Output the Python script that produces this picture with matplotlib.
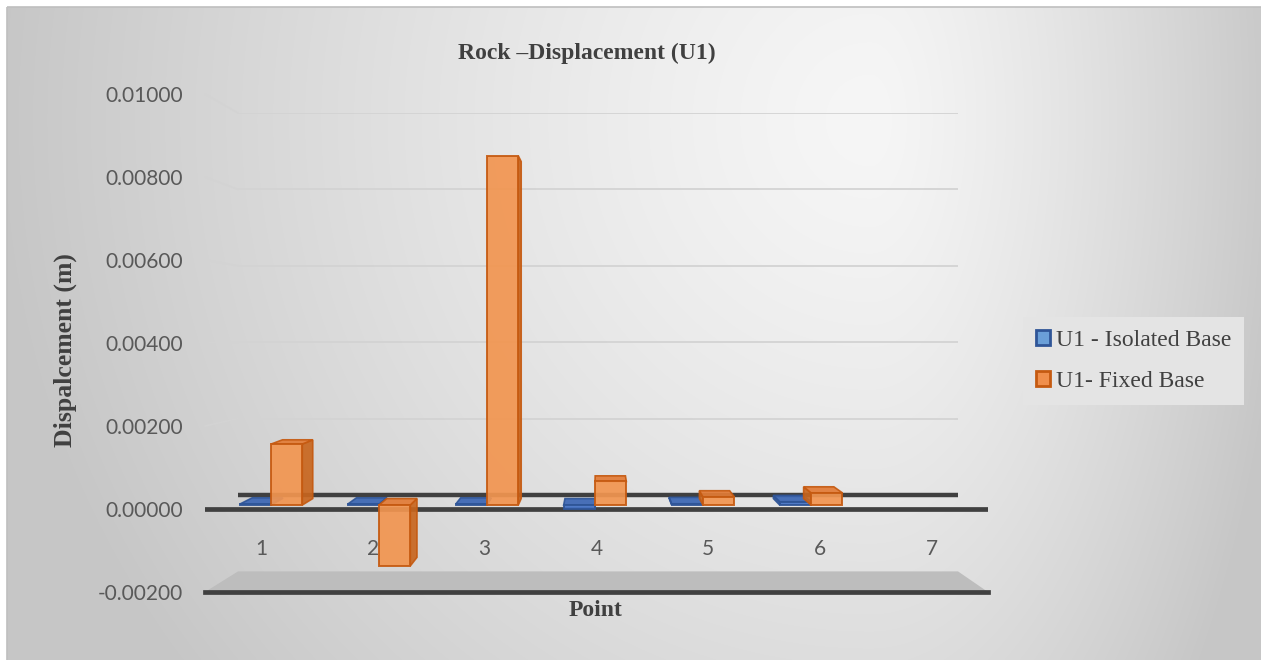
import numpy as np
import matplotlib
matplotlib.use("Agg")
import matplotlib.pyplot as plt
from matplotlib.patches import Polygon, Patch, Rectangle, ConnectionPatch
from matplotlib.transforms import blended_transform_factory

# ---- data ----
categories = [1, 2, 3, 4, 5, 6, 7]
isolated_base = [0.00002, 0.00002, 0.00002, -0.0001, 0.00003, 0.00008, np.nan]
fixed_base = [0.0015, -0.0015, 0.0086, 0.00058, 0.0002, 0.0003, np.nan]
series_names = ["U1 - Isolated Base", "U1- Fixed Base"]
y_ticks = [-0.002, 0.0, 0.002, 0.004, 0.006, 0.008, 0.010]
chart_title = "Rock \u2013Displacement (U1)"
x_title = "Point"
y_title = "Dispalcement (m)"

W, H = 1261, 660
fig = plt.figure(figsize=(W / 100, H / 100), dpi=100)
fig.patch.set_facecolor("white")

SERIF = ["Liberation Serif", "DejaVu Serif"]
SANS = ["Lato", "DejaVu Sans"]
TXT = "#404040"
TICK = "#595959"
GRID = "#d3d3d3"


def px_axes(left, top, right, bottom, z):
    ax = fig.add_axes([left / W, 1 - bottom / H, (right - left) / W, (bottom - top) / H])
    ax.set_zorder(z)
    ax.patch.set_visible(False)
    for s in ax.spines.values():
        s.set_visible(False)
    return ax


# ---- chart area background (soft grey gradient) ----
bg = fig.add_axes([0, 0, 1, 1])
bg.set_zorder(0)
bg.set_xlim(0, W)
bg.set_ylim(H, 0)
bg.axis("off")
xx, yy = np.meshgrid(np.arange(7, W + 1), np.arange(7, H + 1))
cx, cy = 870.0, 120.0
rx = np.where(xx < cx, 880.0, 420.0)
t = np.clip(np.sqrt(((xx - cx) / rx) ** 2 + ((yy - cy) / 900.0) ** 2), 0, 1)
g = (246 - 48 * t ** 1.3) / 255.0
bg.imshow(np.dstack([g, g, g]), extent=(7, W + 1, H + 1, 7), aspect="auto",
          interpolation="bilinear")
bg.add_patch(Rectangle((7, 7), W, H, fill=False, edgecolor="#bfbfbf", lw=1.2))

# ---- back wall ----
ax_back = px_axes(238, 113, 958, 571.4, 1)
ax_back.set_xlim(0.5, 7.5)
ax_back.set_ylim(y_ticks[0], y_ticks[-1])
ax_back.set_xticks([])
ax_back.set_yticks([])
for v in y_ticks[2:]:
    ax_back.axhline(v, color=GRID, lw=1.3)
ax_back.axhline(0.0, color="#404040", lw=3.2)

# ---- front plane: value labels, zero line, floor ----
ax_front = px_axes(205, 94, 988, 592, 2)
ax_front.set_xlim(0.5, 7.5)
ax_front.set_ylim(y_ticks[0], y_ticks[-1])
ax_front.set_xticks([])
ax_front.set_yticks(y_ticks)
ax_front.set_yticklabels([f"{v:.5f}" for v in y_ticks], family=SANS, fontsize=15, color=TICK)
ax_front.tick_params(axis="y", length=0, pad=16)

floor_disp = np.vstack([
    ax_front.transData.transform([(0.5, y_ticks[0]), (7.5, y_ticks[0])]),
    ax_back.transData.transform([(7.5, y_ticks[0]), (0.5, y_ticks[0])]),
])
floor_pts = ax_front.transData.inverted().transform(floor_disp)
ax_front.add_patch(Polygon(floor_pts, closed=True, facecolor="#bdbdbd", edgecolor="none",
                           zorder=1, clip_on=False))
ax_front.axhline(0.0, color="#404040", lw=3.4, zorder=2)
ax_front.axhline(y_ticks[0], color="#404040", lw=3.4, zorder=2, clip_on=False)

for v in y_ticks[2:]:
    con = ConnectionPatch(xyA=(0.5, v), coordsA=ax_front.transData,
                          xyB=(0.5, v), coordsB=ax_back.transData,
                          color=GRID, lw=1.3)
    con.set_zorder(1)
    fig.add_artist(con)

lab_tr = blended_transform_factory(ax_front.transData, ax_front.transAxes)
for c in categories:
    ax_front.text(c, 0.0863, str(c), transform=lab_tr, ha="center", va="center",
                  family=SANS, fontsize=15, color=TICK)

# ---- bars (drawn in the mid-depth plane with a perspective box effect) ----
ax_bar = px_axes(217, 99, 973, 586.2, 3)
ax_bar.set_xlim(0.5, 7.5)
ax_bar.set_ylim(y_ticks[0], y_ticks[-1])
ax_bar.axis("off")

vp = np.array([4.05, 0.00453])   # vanishing point in bar-plane data units
depth = 0.035
bar_w = 0.29
x = np.array(categories, dtype=float)

styles = [
    dict(front="#4472C4", side="#33579a", top="#3b66b4", edge="#2F5597"),
    dict(front="#F29550", side="#c8661f", top="#e27b36", edge="#C55A11"),
]


def back(p):
    p = np.asarray(p, dtype=float)
    return p + depth * (vp - p)


for si, (vals, st) in enumerate(zip([isolated_base, fixed_base], styles)):
    off = (-0.5 + si) * bar_w
    z = 3 + 2 * si
    rects = ax_bar.bar(x + off, vals, bar_w, color=st["front"], edgecolor=st["edge"],
                       lw=1.4, alpha=0.92, zorder=z + 1)
    for r in rects:
        h = r.get_height()
        if not np.isfinite(h):
            continue
        xl, y0 = r.get_xy()
        xr = xl + r.get_width()
        yb, yt = min(y0, y0 + h), max(y0, y0 + h)
        faces = []
        if vp[0] > xr:
            faces.append(([(xr, yb), (xr, yt), back((xr, yt)), back((xr, yb))], st["side"]))
        if vp[0] < xl:
            faces.append(([(xl, yb), (xl, yt), back((xl, yt)), back((xl, yb))], st["side"]))
        if vp[1] > yt:
            faces.append(([(xl, yt), (xr, yt), back((xr, yt)), back((xl, yt))], st["top"]))
        if vp[1] < yb:
            faces.append(([(xl, yb), (xr, yb), back((xr, yb)), back((xl, yb))], st["top"]))
        for pts, col in faces:
            ax_bar.add_patch(Polygon(pts, closed=True, facecolor=col, edgecolor=st["edge"],
                                     lw=1.2, alpha=0.92, zorder=z))

# ---- titles ----
fig.text(587 / W, 1 - 53 / H, chart_title, ha="center", va="center", family=SERIF,
         fontweight="bold", fontsize=17, color=TXT)
fig.text(596 / W, 1 - 611 / H, x_title, ha="center", va="center", family=SERIF,
         fontweight="bold", fontsize=17, color=TXT)
fig.text(65 / W, 1 - 350 / H, y_title, ha="center", va="center", rotation=90,
         family=SERIF, fontweight="bold", fontsize=18.5, color=TXT)

# ---- legend ----
handles = [
    Patch(facecolor="#6A9FD8", edgecolor="#2F5597", lw=2),
    Patch(facecolor="#F08F4C", edgecolor="#C55A11", lw=2),
]
leg = fig.legend(handles, series_names, loc="upper left",
                 bbox_to_anchor=(1023 / W, 1 - 317 / H), frameon=True, fancybox=False,
                 facecolor="#e4e4e4", edgecolor="none", framealpha=1,
                 prop=dict(family=SERIF, size=17), labelcolor=TXT,
                 handlelength=0.6, handleheight=0.6, handletextpad=0.25,
                 labelspacing=0.85, borderpad=0.55, borderaxespad=0)
leg.set_zorder(10)

fig.savefig("out.png", dpi=100)
